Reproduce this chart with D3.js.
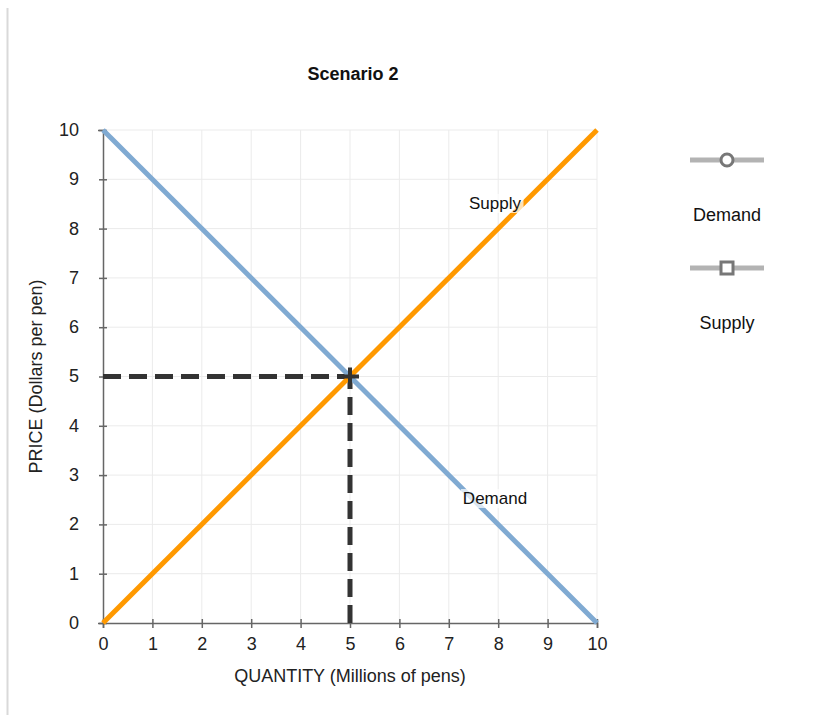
<!DOCTYPE html>
<html>
<head>
<meta charset="utf-8">
<script src="https://cdn.jsdelivr.net/npm/d3@7"></script>
<style>
  body { margin: 0; background: #fff; }
  text { font-family: "Liberation Sans", Arial, sans-serif; }
</style>
</head>
<body>
<div id="chart"></div>
<script>
const title = "Scenario 2";
const xTicks = [0, 1, 2, 3, 4, 5, 6, 7, 8, 9, 10];
const yTicks = [0, 1, 2, 3, 4, 5, 6, 7, 8, 9, 10];
const demandPts = [[0, 10], [10, 0]];
const supplyPts = [[0, 0], [10, 10]];
const equilibrium = [5, 5];
const seriesNames = ["Demand", "Supply"];

const W = 838, H = 717;
const M = { LEFT: 103, TOP: 130, RIGHT: 241, BOTTOM: 94 };
const FS = 18;

const svg = d3.select("#chart").append("svg")
  .attr("width", W).attr("height", H);

// panel border on the left
svg.append("line")
  .attr("x1", 7.5).attr("x2", 7.5).attr("y1", 8).attr("y2", 715)
  .attr("stroke", "#d9d9d9").attr("stroke-width", 2);

const x = d3.scaleLinear().domain([0, 10]).range([M.LEFT, W - M.RIGHT]);
const y = d3.scaleLinear().domain([0, 10]).range([H - M.BOTTOM, M.TOP]);

// grid
const grid = svg.append("g");
grid.selectAll(".gx").data(xTicks.slice(1)).enter().append("line")
  .attr("x1", d => x(d)).attr("x2", d => x(d))
  .attr("y1", y(0)).attr("y2", y(10))
  .attr("stroke", "#ebebeb").attr("stroke-width", 1);
grid.selectAll(".gy").data(yTicks.slice(1)).enter().append("line")
  .attr("x1", x(0)).attr("x2", x(10))
  .attr("y1", d => y(d)).attr("y2", d => y(d))
  .attr("stroke", "#ebebeb").attr("stroke-width", 1);

// axes
const xAxis = svg.append("g")
  .attr("transform", `translate(0, ${y(0)})`)
  .call(d3.axisBottom(x).tickValues(xTicks).tickSize(5).tickPadding(8).tickFormat(d3.format("d")));
xAxis.selectAll(".tick line").attr("y1", -4);
const yAxis = svg.append("g")
  .attr("transform", `translate(${x(0)}, 0)`)
  .call(d3.axisLeft(y).tickValues(yTicks).tickSize(5).tickPadding(19).tickFormat(d3.format("d")));
yAxis.selectAll(".tick line").attr("x1", 4).attr("x2", -4);
[xAxis, yAxis].forEach(a => {
  a.attr("font-family", null);
  a.select(".domain").attr("stroke", "#666").attr("stroke-width", 1.5);
  a.selectAll(".tick line").attr("stroke", "#666").attr("stroke-width", 1.5);
  a.selectAll(".tick text").attr("fill", "#222").style("font-size", FS + "px");
});
yAxis.selectAll(".tick text").attr("dy", "0.3em");
xAxis.selectAll(".tick text").attr("dy", "0.8em");

// title and axis labels
svg.append("text").attr("x", 353).attr("y", 80)
  .attr("text-anchor", "middle").attr("font-size", 18).attr("font-weight", "bold")
  .attr("fill", "#111").text(title);
svg.append("text").attr("x", (x(0) + x(10)) / 2).attr("y", 682)
  .attr("text-anchor", "middle").attr("font-size", 18).attr("fill", "#222")
  .text("QUANTITY (Millions of pens)");
svg.append("text")
  .attr("transform", `translate(42, ${(y(0) + y(10)) / 2}) rotate(-90)`)
  .attr("text-anchor", "middle").attr("font-size", 18).attr("fill", "#222")
  .text("PRICE (Dollars per pen)");

const line = d3.line().x(d => x(d[0])).y(d => y(d[1]));

// equilibrium dashes
svg.append("path")
  .attr("d", line([[0, equilibrium[1]], equilibrium]))
  .attr("stroke", "#333").attr("stroke-width", 5).attr("fill", "none")
  .attr("stroke-dasharray", "18,8");
svg.append("path")
  .attr("d", line([[equilibrium[0], 0], equilibrium]))
  .attr("stroke", "#333").attr("stroke-width", 5).attr("fill", "none")
  .attr("stroke-dasharray", "18,8");

// curves
svg.append("path").attr("d", line(demandPts))
  .attr("stroke", "#80aad2").attr("stroke-width", 5).attr("fill", "none");
svg.append("path").attr("d", line(supplyPts))
  .attr("stroke", "#ff9900").attr("stroke-width", 5).attr("fill", "none");

// equilibrium cross marker
const ex = x(equilibrium[0]), ey = y(equilibrium[1]);
svg.append("path")
  .attr("d", `M${ex - 9},${ey}H${ex + 9}M${ex},${ey - 9}V${ey + 9}`)
  .attr("stroke", "#333").attr("stroke-width", 4);

// curve labels with translucent background
function curveLabel(txt, px, py) {
  const g = svg.append("g");
  const t = g.append("text").attr("x", px).attr("y", py)
    .attr("text-anchor", "middle").attr("font-size", 17).attr("fill", "#111").text(txt);
  const b = t.node().getBBox();
  g.insert("rect", "text").attr("x", b.x - 2).attr("y", b.y)
    .attr("width", b.width + 4).attr("height", b.height)
    .attr("fill", "#fff").attr("opacity", 0.7);
}
curveLabel(seriesNames[1], 495, 209);
curveLabel(seriesNames[0], 495, 504);

// legend
const legend = svg.append("g");
const legY = [160, 268];
seriesNames.forEach((name, i) => {
  const ly = legY[i];
  legend.append("line").attr("x1", 690).attr("x2", 764).attr("y1", ly).attr("y2", ly)
    .attr("stroke", "#b3b3b3").attr("stroke-width", 5);
  if (i === 0) {
    legend.append("circle").attr("cx", 727).attr("cy", ly).attr("r", 6)
      .attr("fill", "#fff").attr("stroke", "#777").attr("stroke-width", 3);
  } else {
    legend.append("rect").attr("x", 721).attr("y", ly - 6).attr("width", 12).attr("height", 12)
      .attr("fill", "#fff").attr("stroke", "#777").attr("stroke-width", 3);
  }
  legend.append("text").attr("x", 727).attr("y", ly + 61)
    .attr("text-anchor", "middle").attr("font-size", 18).attr("fill", "#111").text(name);
});
</script>
</body>
</html>
